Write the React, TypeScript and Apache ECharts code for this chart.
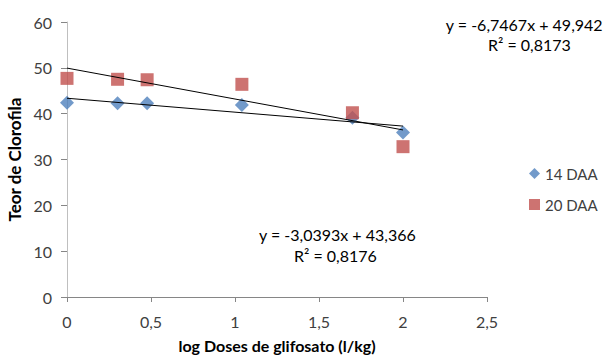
import React, { useEffect, useRef } from "react";
import * as echarts from "echarts";

const xValues = [0, 0.301, 0.477, 1.041, 1.699, 2.0];
const daa14 = [42.4, 42.3, 42.3, 41.9, 39.1, 35.9];
const daa20 = [47.7, 47.5, 47.4, 46.4, 40.2, 32.8];
const trend14 = { slope: -3.0393, intercept: 43.366 };
const trend20 = { slope: -6.7467, intercept: 49.942 };
const trendX = [0, 2];
const xTicks = ["0", "0,5", "1", "1,5", "2", "2,5"];
const seriesNames = ["14 DAA", "20 DAA"];
const eq20 = ["y = -6,7467x + 49,942", "R² = 0,8173"];
const eq14 = ["y = -3,0393x + 43,366", "R² = 0,8176"];

const FONT = "Lato, 'Open Sans', sans-serif";

export default function App() {
  const ref = useRef<HTMLDivElement>(null);
  useEffect(() => {
    if (!ref.current) return;
    const chart = echarts.init(ref.current, undefined, { renderer: "svg" });
    const pts = (ys: number[]) => xValues.map((x, i) => [x, ys[i]]);
    const tl = (t: { slope: number; intercept: number }) =>
      trendX.map((x) => [x, t.intercept + t.slope * x]);
    chart.setOption({
      animation: false,
      backgroundColor: "#fff",
      textStyle: { fontFamily: FONT },
      grid: {
        left: 67,
        right: 118,
        top: 22,
        bottom: 59,
        containLabel: false,
        outerBoundsMode: "none",
      },
      xAxis: {
        type: "value",
        min: 0,
        max: 2.5,
        interval: 0.5,
        name: "log Doses de glifosato (l/kg)",
        nameLocation: "middle",
        nameGap: 40,
        nameTextStyle: { fontFamily: FONT, fontSize: 16, fontWeight: "bold", color: "#000" },
        axisLine: { lineStyle: { color: "#868686", width: 1 } },
        axisTick: { show: true, length: 5, lineStyle: { color: "#868686" } },
        axisLabel: {
          fontFamily: FONT,
          fontSize: 16,
          color: "#404040",
          margin: 16,
          formatter: (v: number) => xTicks[Math.round(v / 0.5)],
        },
        splitLine: { show: false },
      },
      yAxis: {
        type: "value",
        min: 0,
        max: 60,
        interval: 10,
        name: "Teor de Clorofila",
        nameLocation: "middle",
        nameGap: 40,
        nameTextStyle: { fontFamily: FONT, fontSize: 17, fontWeight: "bold", color: "#000" },
        axisLine: { show: true, lineStyle: { color: "#BFBFBF", width: 1 } },
        axisTick: { show: true, length: 6, lineStyle: { color: "#868686" } },
        axisLabel: { fontFamily: FONT, fontSize: 16, color: "#404040", margin: 15 },
        splitLine: { show: false },
      },
      legend: {
        orient: "vertical",
        left: 524,
        top: 161,
        itemGap: 16,
        itemWidth: 11,
        itemHeight: 11,
        textStyle: { fontFamily: FONT, fontSize: 15, color: "#404040" },
        data: [
          { name: seriesNames[0], icon: "diamond" },
          { name: seriesNames[1], icon: "rect" },
        ],
      },
      series: [
        {
          name: seriesNames[0],
          type: "scatter",
          symbol: "diamond",
          symbolSize: 14,
          itemStyle: { color: "#4F81BD" },
          data: pts(daa14),
          z: 3,
        },
        {
          name: seriesNames[1],
          type: "scatter",
          symbol: "rect",
          symbolSize: 13,
          itemStyle: { color: "#C0504D" },
          data: pts(daa20),
          z: 3,
        },
        {
          name: "trend14",
          type: "line",
          data: tl(trend14),
          showSymbol: false,
          silent: true,
          lineStyle: { color: "#000", width: 1 },
          z: 4,
        },
        {
          name: "trend20",
          type: "line",
          data: tl(trend20),
          showSymbol: false,
          silent: true,
          lineStyle: { color: "#000", width: 1 },
          z: 4,
        },
      ],
      graphic: [
        {
          type: "text",
          right: 2,
          top: 16,
          style: { text: eq20[0], font: `16px ${FONT}`, fill: "#000" },
        },
        {
          type: "text",
          left: 488,
          top: 36,
          style: { text: eq20[1], font: `16px ${FONT}`, fill: "#000" },
        },
        {
          type: "text",
          left: 259,
          top: 226,
          style: { text: eq14[0], font: `16px ${FONT}`, fill: "#000" },
        },
        {
          type: "text",
          left: 294,
          top: 247,
          style: { text: eq14[1], font: `16px ${FONT}`, fill: "#000" },
        },
      ],
    });
    return () => chart.dispose();
  }, []);
  return <div ref={ref} style={{ width: 605, height: 356, position: "absolute", left: 0, top: 0 }} />;
}
